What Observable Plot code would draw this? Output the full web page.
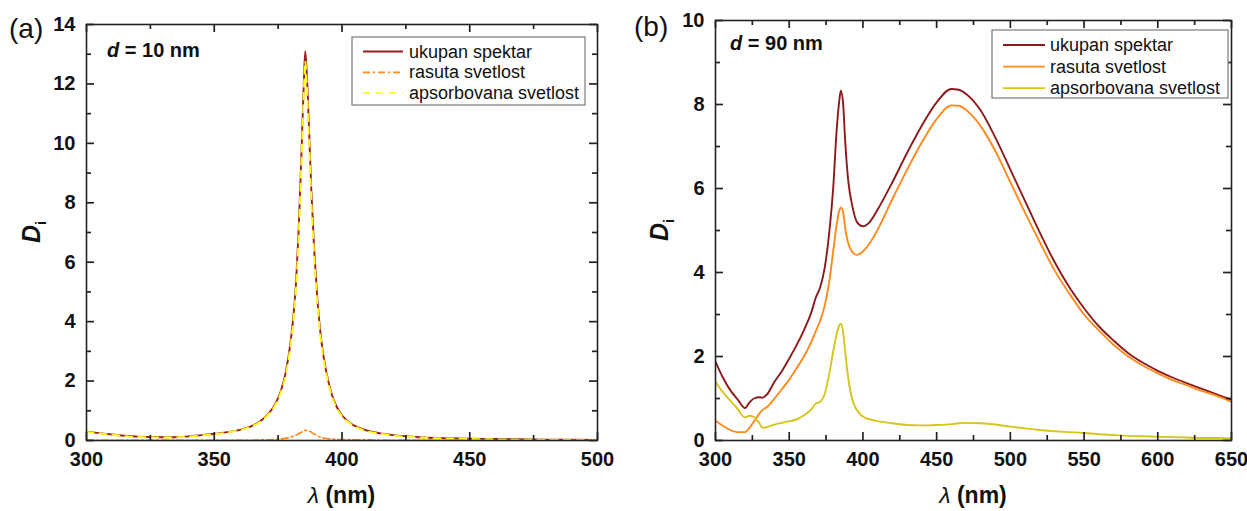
<!DOCTYPE html>
<html>
<head>
<meta charset="utf-8">
<script src="https://cdn.jsdelivr.net/npm/d3@7"></script>
<script src="https://cdn.jsdelivr.net/npm/@observablehq/plot@0.6"></script>
<style>
  body { margin: 0; background: #fff; }
  #wrap { position: relative; width: 1247px; height: 511px; overflow: hidden; }
  #wrap > svg { position: absolute; top: 0; }
</style>
</head>
<body>
<div id="wrap"></div>
<script>
// ---------- Data: panel (a), d = 10 nm ----------
const aWl = [300, 305, 310, 315, 320, 325, 330, 335, 340, 345, 350, 355, 360, 365, 368, 371, 374, 376, 378, 380, 381, 382, 383, 384, 385, 385.6, 386.2, 387, 388, 389, 390, 391, 392, 394, 396, 398, 400, 403, 406, 410, 415, 420, 430, 440, 450, 460, 480, 500];
const aTotal = [0.30, 0.25, 0.20, 0.16, 0.13, 0.12, 0.11, 0.11, 0.14, 0.18, 0.22, 0.28, 0.36, 0.50, 0.65, 0.88, 1.25, 1.65, 2.3, 3.4, 4.2, 5.3, 7.0, 9.3, 11.9, 13.1, 12.4, 10.7, 8.4, 6.6, 5.2, 4.1, 3.3, 2.25, 1.55, 1.12, 0.85, 0.60, 0.45, 0.33, 0.24, 0.18, 0.11, 0.08, 0.06, 0.05, 0.03, 0.02];
const aScattered = [0.01, 0.01, 0.01, 0.01, 0.01, 0.01, 0.01, 0.01, 0.01, 0.01, 0.01, 0.01, 0.01, 0.01, 0.02, 0.02, 0.04, 0.05, 0.08, 0.11, 0.15, 0.18, 0.23, 0.27, 0.32, 0.34, 0.34, 0.32, 0.28, 0.22, 0.18, 0.13, 0.10, 0.07, 0.05, 0.04, 0.03, 0.03, 0.02, 0.02, 0.01, 0.01, 0.01, 0.01, 0.01, 0.01, 0.01, 0.01];
const aAbsorbed = [0.29, 0.24, 0.19, 0.15, 0.12, 0.11, 0.10, 0.10, 0.13, 0.17, 0.21, 0.27, 0.35, 0.49, 0.63, 0.86, 1.21, 1.60, 2.22, 3.29, 4.05, 5.12, 6.77, 9.03, 11.58, 12.76, 12.06, 10.38, 8.12, 6.38, 5.02, 3.97, 3.20, 2.18, 1.50, 1.08, 0.82, 0.58, 0.43, 0.31, 0.23, 0.17, 0.10, 0.07, 0.05, 0.04, 0.02, 0.01];

// ---------- Data: panel (b), d = 90 nm ----------
const bWl = [300, 305, 310, 315, 320, 323, 326, 330, 332, 335, 340, 345, 350, 355, 360, 365, 368, 371, 374, 377, 380, 382, 384, 385, 386.5, 388, 390, 393, 396, 400, 405, 410, 420, 430, 440, 450, 460, 465, 470, 480, 490, 500, 510, 520, 530, 540, 550, 560, 570, 580, 590, 600, 610, 620, 630, 640, 650];
const bTotal = [1.88, 1.5, 1.2, 0.98, 0.77, 0.9, 1.0, 1.03, 1.02, 1.1, 1.4, 1.65, 1.95, 2.27, 2.63, 3.05, 3.4, 3.65, 4.1, 4.9, 6.1, 7.3, 8.1, 8.33, 8.05, 7.1, 6.2, 5.55, 5.2, 5.1, 5.22, 5.5, 6.15, 6.85, 7.5, 8.05, 8.37, 8.35, 8.25, 7.85, 7.2, 6.45, 5.7, 4.95, 4.25, 3.65, 3.15, 2.72, 2.38, 2.08, 1.85, 1.66, 1.5, 1.36, 1.23, 1.1, 0.97];
const bScattered = [0.47, 0.35, 0.25, 0.2, 0.2, 0.3, 0.45, 0.65, 0.73, 0.8, 1.0, 1.22, 1.45, 1.72, 2.0, 2.35, 2.6, 2.85, 3.2, 3.75, 4.55, 5.1, 5.48, 5.55, 5.45, 5.05, 4.7, 4.48, 4.42, 4.5, 4.72, 5.02, 5.75, 6.45, 7.1, 7.65, 7.98, 7.97, 7.87, 7.48, 6.88, 6.15, 5.42, 4.72, 4.05, 3.5, 3.0, 2.62, 2.28, 2.0, 1.78, 1.6, 1.44, 1.31, 1.18, 1.06, 0.92];
const bAbsorbed = [1.4, 1.15, 0.95, 0.75, 0.55, 0.59, 0.56, 0.4, 0.3, 0.32, 0.38, 0.42, 0.46, 0.5, 0.6, 0.74, 0.88, 0.92, 1.1, 1.55, 2.15, 2.5, 2.75, 2.78, 2.6, 2.1, 1.5, 0.95, 0.72, 0.57, 0.5, 0.46, 0.41, 0.37, 0.36, 0.37, 0.39, 0.41, 0.42, 0.41, 0.38, 0.33, 0.29, 0.25, 0.22, 0.2, 0.18, 0.15, 0.13, 0.11, 0.1, 0.09, 0.08, 0.07, 0.06, 0.06, 0.05];

// ---------- Ticks & labels ----------
const aXMajor = [300, 350, 400, 450, 500];
const aXMinor = [325, 375, 425, 475];
const aYMajor = [0, 2, 4, 6, 8, 10, 12, 14];
const aYMinor = [1, 3, 5, 7, 9, 11, 13];
const bXMajor = [300, 350, 400, 450, 500, 550, 600, 650];
const bXMinor = [325, 375, 425, 475, 525, 575, 625];
const bYMajor = [0, 2, 4, 6, 8, 10];
const bYMinor = [1, 3, 5, 7, 9];

const seriesNames = ["ukupan spektar", "rasuta svetlost", "apsorbovana svetlost"];
const panelTags = ["(a)", "(b)"];
const thicknessLabels = ["10 nm", "90 nm"];

const FONT = "'Liberation Sans', Arial, Helvetica, sans-serif";
const AX = "#222";

function rows(wl, t, s, a) {
  return wl.map((w, i) => ({w, total: t[i], scat: s[i], abs: a[i]}));
}

function panel(cfg) {
  const innerW = cfg.width - cfg.ml - cfg.mr;
  const innerH = cfg.height - cfg.mt - cfg.mb;
  const [x0, x1] = cfg.xDomain, [y0, y1] = cfg.yDomain;
  // tick lengths expressed in data units of each scale (pixels * units-per-pixel)
  const yU = px => px * (y1 - y0) / innerH;
  const xU = px => px * (x1 - x0) / innerW;
  const tickStyle = {stroke: AX, strokeWidth: 1.7};
  const xTicks = (ticks, len) => [
    Plot.ruleX(ticks, {x: d => d, y1: y0, y2: y0 + yU(len), ...tickStyle}),
    Plot.ruleX(ticks, {x: d => d, y1: y1 - yU(len), y2: y1, ...tickStyle})
  ];
  const yTicks = (ticks, len) => [
    Plot.ruleY(ticks, {y: d => d, x1: x0, x2: x0 + xU(len), ...tickStyle}),
    Plot.ruleY(ticks, {y: d => d, x1: x1 - xU(len), x2: x1, ...tickStyle})
  ];
  const lineMarks = cfg.lines.map(L => Plot.line(cfg.data, {
    x: "w", y: L.key, stroke: L.color, strokeWidth: L.width || 1.8,
    strokeDasharray: L.dash || null, curve: "monotone-x", clip: true
  }));
  const svg = Plot.plot({
    width: cfg.width, height: cfg.height,
    marginLeft: cfg.ml, marginRight: cfg.mr, marginTop: cfg.mt, marginBottom: cfg.mb,
    style: {fontFamily: FONT, fontSize: "20px", fontWeight: "bold", color: "#111", background: "transparent", overflow: "visible"},
    x: {domain: cfg.xDomain, label: null},
    y: {domain: cfg.yDomain, label: null},
    marks: [
      ...lineMarks,
      ...xTicks(cfg.xMajor, 8), ...xTicks(cfg.xMinor, 5),
      ...yTicks(cfg.yMajor, 8), ...yTicks(cfg.yMinor, 5),
      Plot.axisX({ticks: cfg.xMajor, tickSize: 0, tickPadding: 11, label: null, tickFormat: d => String(d)}),
      Plot.axisY({ticks: cfg.yMajor, tickSize: 0, tickPadding: 11, label: null, tickFormat: d => String(d)}),
      Plot.frame({stroke: AX, strokeWidth: 1.6})
    ]
  });
  svg.style.left = cfg.left + "px";

  const g = d3.select(svg).append("g").attr("font-family", FONT).attr("fill", "#111")
    .attr("text-anchor", "start");

  // panel tag
  g.append("text").attr("x", cfg.tag.x).attr("y", cfg.tag.y).attr("text-anchor", "start")
    .attr("font-size", 28).attr("font-weight", "normal").text(cfg.tag.text);

  // thickness annotation
  const dt = g.append("text").attr("x", cfg.dLab.x).attr("y", cfg.dLab.y).attr("text-anchor", "start")
    .attr("font-size", 20).attr("font-weight", "bold");
  dt.append("tspan").attr("font-style", "italic").text("d");
  dt.append("tspan").text(" = " + cfg.dLab.text);

  // x title
  const xt = g.append("text").attr("x", cfg.ml + innerW / 2).attr("y", 503)
    .attr("text-anchor", "middle").attr("font-size", 23).attr("font-weight", "bold");
  xt.append("tspan").attr("font-style", "italic").attr("font-weight", "normal").text("λ");
  xt.append("tspan").text(" (nm)");

  // y title
  const yt = g.append("text")
    .attr("transform", `translate(${cfg.yTitleX},${cfg.mt + innerH / 2}) rotate(-90)`)
    .attr("text-anchor", "middle").attr("font-size", 25).attr("font-weight", "bold");
  yt.append("tspan").attr("font-style", "italic").text("D");
  yt.append("tspan").attr("font-size", 15).attr("dy", 6).text("i");

  // legend
  const lg = cfg.legend;
  const lgG = g.append("g");
  lgG.append("rect").attr("x", lg.x).attr("y", lg.y).attr("width", lg.w).attr("height", lg.h)
    .attr("fill", "#fff").attr("stroke", "#7a7a7a").attr("stroke-width", 1.2);
  cfg.lines.forEach((L, i) => {
    const cy = lg.y + lg.first + i * lg.step;
    lgG.append("line").attr("x1", lg.lx0).attr("x2", lg.lx1).attr("y1", cy).attr("y2", cy)
      .attr("stroke", L.color).attr("stroke-width", 1.8)
      .attr("stroke-dasharray", L.dash || null);
    lgG.append("text").attr("x", lg.tx).attr("y", cy + 6).attr("font-size", 18)
      .attr("text-anchor", "start")
      .attr("font-weight", "normal").attr("fill", "#111").text(seriesNames[i]);
  });
  document.getElementById("wrap").appendChild(svg);
}

panel({
  left: 0, width: 620, height: 511, ml: 86, mr: 23, mt: 24, mb: 71,
  xDomain: [300, 500], yDomain: [0, 14],
  xMajor: aXMajor, xMinor: aXMinor, yMajor: aYMajor, yMinor: aYMinor,
  data: rows(aWl, aTotal, aScattered, aAbsorbed),
  lines: [
    {key: "total", color: "#9e1c1c", width: 1.9},
    {key: "scat", color: "#ff8a1c", dash: "7,3,2,3", width: 1.6},
    {key: "abs", color: "#ffff1a", dash: "7,6", width: 1.9}
  ],
  tag: {x: 9, y: 38, text: panelTags[0]},
  dLab: {x: 107, y: 57, text: thicknessLabels[0]},
  yTitleX: 40,
  legend: {x: 352, y: 37, w: 233, h: 68, first: 14.5, step: 20.8, lx0: 363, lx1: 403, tx: 409}
});

panel({
  left: 620, width: 627, height: 511, ml: 95, mr: 16, mt: 20, mb: 71,
  xDomain: [300, 650], yDomain: [0, 10],
  xMajor: bXMajor, xMinor: bXMinor, yMajor: bYMajor, yMinor: bYMinor,
  data: rows(bWl, bTotal, bScattered, bAbsorbed),
  lines: [
    {key: "total", color: "#8c1a1a", width: 1.9},
    {key: "scat", color: "#ff8a1e", width: 1.9},
    {key: "abs", color: "#d6c61c", width: 1.9}
  ],
  tag: {x: 14, y: 36, text: panelTags[1]},
  dLab: {x: 110, y: 50, text: thicknessLabels[1]},
  yTitleX: 48,
  legend: {x: 372, y: 30, w: 236, h: 68, first: 15, step: 21.6, lx0: 383, lx1: 425, tx: 430}
});
</script>
</body>
</html>
